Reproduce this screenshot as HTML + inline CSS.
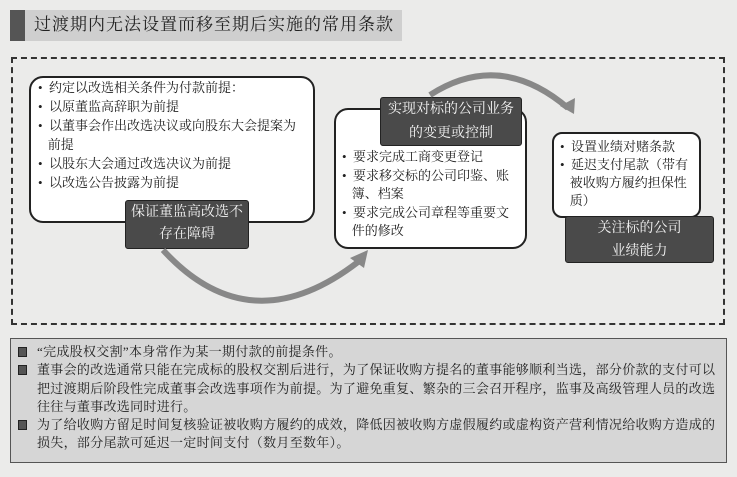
<!DOCTYPE html>
<html><head><meta charset="utf-8"><style>
body{margin:0;width:737px;height:477px;background:#ebebea;position:relative;overflow:hidden;font-family:"Liberation Serif","Noto Serif CJK SC",serif;color:#222}
.a{position:absolute}
.box{position:absolute;border:2px solid #222;border-radius:14px;background:#fff}
.dk{position:absolute;background:#4a4a4a;color:#f4f4f4;border-radius:3px;text-align:center;font-size:14px;border:1px solid #222}
.t{position:absolute;font-size:13px;line-height:19px;white-space:nowrap}
.sq{display:inline-block;width:7px;height:8px;background:#555;border:1px solid #222;margin-right:10px;vertical-align:-1px}
</style></head><body>
<div class="a" style="left:10px;top:10px;width:392px;height:31px;background:#cfcfcf"></div>
<div class="a" style="left:10px;top:10px;width:15px;height:31px;background:#555"></div>
<div class="a" style="left:34px;top:13px;font-size:17px;line-height:24px;letter-spacing:1px">过渡期内无法设置而移至期后实施的常用条款</div>
<div class="a" style="left:11px;top:57px;width:710px;height:264px;border:2px dashed #333"></div>

<div class="box" style="left:29px;top:76px;width:282px;height:143px"></div>
<div class="t" style="left:38px;top:78px">•&nbsp; 约定以改选相关条件为付款前提：<br>•&nbsp; 以原董监高辞职为前提<br>•&nbsp; 以董事会作出改选决议或向股东大会提案为<br>&nbsp;&nbsp;&nbsp;前提<br>•&nbsp; 以股东大会通过改选决议为前提<br>•&nbsp; 以改选公告披露为前提</div>
<div class="dk" style="left:125px;top:200px;width:122px;height:46px;line-height:22px;padding-top:1px">保证董监高改选不<br>存在障碍</div>

<div class="box" style="left:334px;top:108px;width:189px;height:137px"></div>
<div class="dk" style="left:380px;top:97px;width:140px;height:47px;line-height:24px">实现对标的公司业务<br>的变更或控制</div>
<div class="t" style="left:342px;top:148px;line-height:18.5px">•&nbsp; 要求完成工商变更登记<br>•&nbsp; 要求移交标的公司印鉴、账<br>&nbsp;&nbsp;&nbsp;簿、档案<br>•&nbsp; 要求完成公司章程等重要文<br>&nbsp;&nbsp;&nbsp;件的修改</div>

<div class="box" style="left:552px;top:132px;width:145px;height:82px;border-radius:10px"></div>
<div class="t" style="left:560px;top:138px;line-height:18px">•&nbsp; 设置业绩对赌条款<br>•&nbsp; 延迟支付尾款（带有<br>&nbsp;&nbsp;&nbsp;被收购方履约担保性<br>&nbsp;&nbsp;&nbsp;质）</div>
<div class="dk" style="left:565px;top:216px;width:147px;height:45px;line-height:23px">关注标的公司<br>业绩能力</div>

<svg class="a" style="left:0;top:0" width="737" height="477">
<path d="M163 250 Q 250 345 358 262" fill="none" stroke="#888" stroke-width="6"/>
<path d="M350 258 L368 250 L364 268 Z" fill="#888"/>
<path d="M430 95 Q 500 50 568 108" fill="none" stroke="#888" stroke-width="6"/>
<path d="M560 106 L574 114 L575 98 Z" fill="#888"/>
</svg>

<div class="a" style="left:10px;top:338px;width:715px;height:123px;background:#d6d6d6;border:1px solid #555"></div>
<div class="t" style="left:18px;top:343px;font-size:13px;letter-spacing:0.3px;line-height:18.3px">
<span class="sq"></span>“完成股权交割”本身常作为某一期付款的前提条件。<br>
<span class="sq"></span>董事会的改选通常只能在完成标的股权交割后进行，为了保证收购方提名的董事能够顺利当选，部分价款的支付可以<br>
<span style="margin-left:19px"></span>把过渡期后阶段性完成董事会改选事项作为前提。为了避免重复、繁杂的三会召开程序，监事及高级管理人员的改选<br>
<span style="margin-left:19px"></span>往往与董事改选同时进行。<br>
<span class="sq"></span>为了给收购方留足时间复核验证被收购方履约的成效，降低因被收购方虚假履约或虚构资产营利情况给收购方造成的<br>
<span style="margin-left:19px"></span>损失，部分尾款可延迟一定时间支付（数月至数年）。</div>
</body></html>
